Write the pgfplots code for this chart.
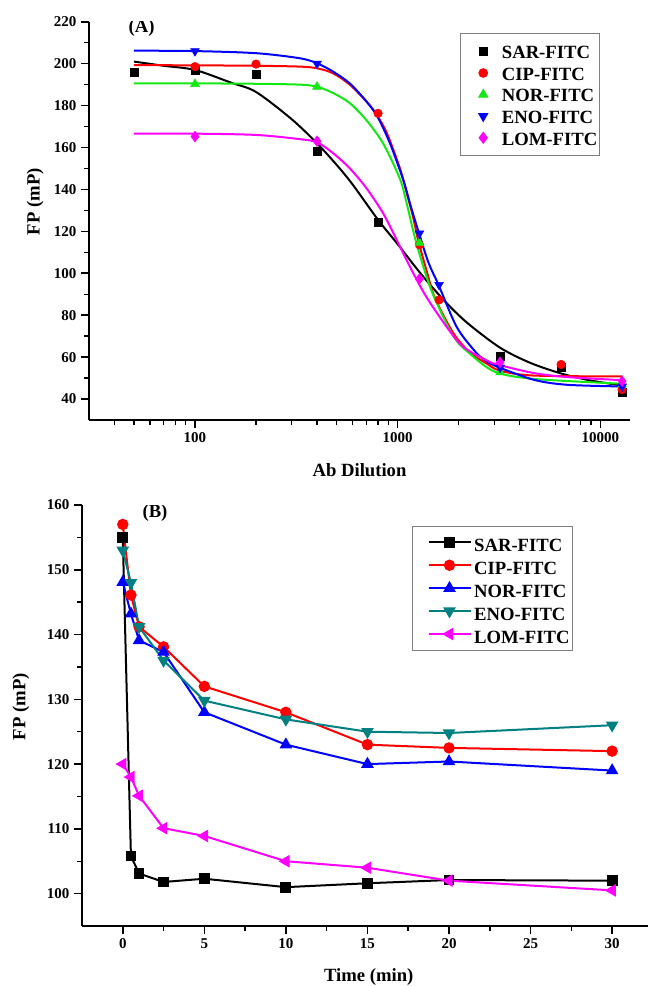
\documentclass[border=0pt]{standalone}
\usepackage{fontspec}
\setmainfont{Liberation Serif}
\usepackage{pgfplots}
\pgfplotsset{compat=1.18}
\definecolor{cgreen}{RGB}{20,232,20}
\definecolor{cteal}{RGB}{0,128,128}
\definecolor{cmag}{RGB}{255,0,255}
\definecolor{cblue}{RGB}{0,0,255}
\definecolor{cred}{RGB}{255,0,0}

\pgfplotsset{
  panel/.style={
    scale only axis,
    axis lines=left,
    axis line style={-, line width=1.2pt},
    tick align=outside,
    major tick length=6pt, minor tick length=3.5pt,
    major tick style={line width=1.2pt, black},
    minor tick style={line width=1.1pt, black},
    tick label style={font=\fontsize{11.25}{13}\selectfont\bfseries},
    /pgf/number format/assume math mode=true,
    label style={font=\fontsize{14}{16}\selectfont\bfseries},
    legend cell align=left,
  },
  fitline/.style={line width=1.5pt, smooth, no marks, forget plot},
  scatleg/.style={legend image code/.code={\draw[##1] plot coordinates {(17pt,0pt)}; \path[draw=none, fill=none] (0pt,0pt) (29pt,0pt);}},
  lineleg/.style={legend image code/.code={\draw[mark repeat=2, mark phase=2, ##1] plot coordinates {(12pt,0pt)(27.75pt,0pt)(43.5pt,0pt)}; \path[draw=none, fill=none] (0pt,0pt);}},
}

\begin{document}
\begin{tikzpicture}
\useasboundingbox (0pt,0pt) rectangle (486.75pt,-739.5pt);

% ---------------- panel (A) ----------------
\begin{axis}[panel,
  at={(66.75pt,-315pt)}, anchor=south west,
  width=405.75pt, height=298.7pt,
  xmode=log, xmin=30, xmax=14000,
  ymin=30, ymax=220,
  xtick={100,1000,10000}, xticklabels={100,1000,10000},
  minor xtick={40,50,60,70,80,90,200,300,400,500,600,700,800,900,2000,3000,4000,5000,6000,7000,8000,9000},
  ytick={40,60,...,220}, minor y tick num=1,
  xlabel={Ab Dilution}, ylabel={FP (mP)},
  xlabel style={at={(axis description cs:0.5,-0.1255)}, anchor=center},
  ylabel style={at={(axis description cs:-0.0998,0.548)}, anchor=center},
  legend style={at={(axis description cs:0.6858,0.9724)}, anchor=north west,
    draw=gray, line width=0.8pt, inner xsep=0pt, inner ysep=5.5pt,
    font=\fontsize{14}{16}\selectfont\bfseries,
    nodes={inner ysep=1pt, text height=12.5pt, text depth=1.7pt}},
]
% fitted curves
\addplot[fitline, black] coordinates {(50,201)(70,199)(100,197)(150,191)(200,186.5)(300,173.5)(400,162)(500,151.7)(600,142.3)(800,125.5)(1000,113.9)(1300,99.8)(1700,86.9)(2200,76.4)(3200,64.5)(4500,57.3)(6400,52.2)(9000,48.8)(12800,46.5)};
\addplot[fitline, cred] coordinates {(50,199.3)(100,199.2)(200,199)(328,198.6)(400,197.8)(480,195.4)(580,190)(700,182)(780,176.3)(885,166.8)(1026,150)(1110,138)(1190,127)(1260,116)(1400,100)(1530,88)(1880,71.5)(2280,62)(2740,57)(3200,53.5)(4690,51.2)(12800,50.8)};
\addplot[fitline, cgreen] coordinates {(50,190.6)(100,190.6)(200,190.4)(328,190)(400,189)(480,186)(580,181.2)(700,173.1)(847,162)(1026,145)(1110,133)(1216,117)(1350,102)(1500,89.5)(1880,70)(2280,61.5)(3020,53)(4700,49.6)(12800,47.3)};
\addplot[fitline, cblue] coordinates {(50,206.2)(100,206)(200,205)(328,202.6)(400,200.2)(480,196.2)(580,190.6)(701,182)(795,174.7)(916,162)(1066,144.5)(1160,132)(1270,119.5)(1420,105)(1590,94.5)(1950,74.6)(2370,63.5)(2650,59)(3090,55.5)(4690,49.2)(6850,46.8)(12800,46)};
\addplot[fitline, cmag] coordinates {(50,166.6)(100,166.6)(200,166)(328,164)(400,162.5)(480,157.3)(580,150.1)(701,140.6)(847,128.7)(988,116)(1110,106)(1240,97)(1400,88)(1740,74.6)(2100,65)(2740,58.5)(3090,56.5)(4690,52.4)(6850,50.5)(12800,49)};
% measured points
\addplot[only marks, mark=square*, mark size=3pt, black, scatleg] coordinates {(50,196)(100,197)(200,195.1)(400,158.4)(800,124.2)(3200,60.3)(6400,55.2)(12800,43.4)};
\addlegendentry{SAR-FITC}
\addplot[only marks, mark=*, mark size=3.2pt, cred, scatleg] coordinates {(100,198.6)(200,199.8)(800,176.3)(1280,113.6)(1600,87.3)(6400,56.5)(12800,44.5)};
\addlegendentry{CIP-FITC}
\addplot[only marks, mark=triangle*, mark size=3.8pt, cgreen, scatleg] coordinates {(100,190.3)(400,189)(1280,114.5)(3200,52.7)(12800,47)};
\addlegendentry{NOR-FITC}
\addplot[only marks, mark=triangle*, mark size=3.8pt, mark options={rotate=180}, cblue, scatleg] coordinates {(100,206)(400,200)(1280,119)(1600,94.5)(3200,55)(12800,46)};
\addlegendentry{ENO-FITC}
\addplot[only marks, mark=diamond*, mark size=4pt, cmag, scatleg] coordinates {(100,165.2)(400,163)(1280,97.3)(3200,57.5)(12800,48.5)};
\addlegendentry{LOM-FITC}
\node[font=\fontsize{14}{16}\selectfont\bfseries] at (axis description cs:0.0974,0.984) {(A)};
\end{axis}

% ---------------- panel (B) ----------------
\begin{axis}[panel,
  at={(61.5pt,-694.5pt)}, anchor=south west,
  width=424.5pt, height=315.75pt,
  xmin=-2.5, xmax=32.2, ymin=95, ymax=160,
  xtick={0,5,...,30}, minor x tick num=1,
  ytick={100,110,...,160}, minor y tick num=1,
  xlabel={Time (min)}, ylabel={FP (mP)},
  xlabel style={at={(axis description cs:0.5066,-0.1204)}, anchor=center},
  ylabel style={at={(axis description cs:-0.108,0.521)}, anchor=center},
  legend style={at={(axis description cs:0.583,0.951)}, anchor=north west,
    draw=gray, line width=0.8pt, inner xsep=0pt, inner ysep=3.5pt,
    font=\fontsize{14}{16}\selectfont\bfseries,
    nodes={inner ysep=1pt, text height=14.5pt, text depth=0.7pt}},
  every axis plot/.append style={line width=1.5pt},
]
\addplot[black, mark=square*, mark size=3.3pt, lineleg] coordinates {(0,155)(0.5,105.8)(1,103.1)(2.5,101.8)(5,102.3)(10,101)(15,101.6)(20,102.1)(30,102)};
\addlegendentry{SAR-FITC}
\addplot[cred, mark=*, mark size=3.5pt, lineleg] coordinates {(0,157)(0.5,146.1)(1,141.2)(2.5,138.1)(5,132)(10,128)(15,123)(20,122.5)(30,122)};
\addlegendentry{CIP-FITC}
\addplot[cblue, mark=triangle*, mark size=4pt, lineleg] coordinates {(0,148.1)(0.5,143.2)(1,139.1)(2.5,137.3)(5,128)(10,123)(15,120)(20,120.4)(30,119)};
\addlegendentry{NOR-FITC}
\addplot[cteal, mark=triangle*, mark size=4pt, mark options={rotate=180}, lineleg] coordinates {(0,153)(0.5,148)(1,141.2)(2.5,136)(5,129.8)(10,126.9)(15,125)(20,124.8)(30,126)};
\addlegendentry{ENO-FITC}
\addplot[cmag, mark=triangle*, mark size=4pt, mark options={rotate=90}, lineleg] coordinates {(0,120)(0.5,118)(1,115.1)(2.5,110.1)(5,108.9)(10,105)(15,104)(20,102)(30,100.5)};
\addlegendentry{LOM-FITC}
\node[font=\fontsize{14}{16}\selectfont\bfseries] at (axis description cs:0.129,0.980) {(B)};
\end{axis}
\end{tikzpicture}
\end{document}
